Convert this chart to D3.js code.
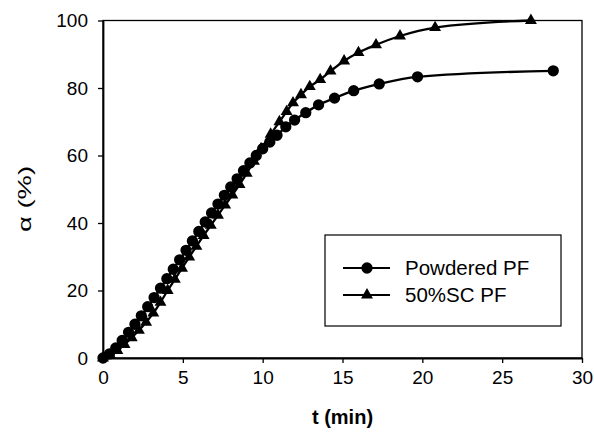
<!DOCTYPE html>
<html lang="en">
<head>
    <meta charset="UTF-8">
    <title>Conversion vs time</title>
    <script src="https://d3js.org/d3.v7.min.js"></script>
    <style>
        body {margin: 0; background: #fff;}
        text {font-family: "Liberation Sans", Arial, sans-serif; fill: #000;}
        path.line {fill: none; stroke: #000; stroke-width: 2.3px;}
    </style>
</head>
<body>
<script>
    const width  = 594;
    const height = 446;
    const margin = {top: 20.5, right: 12, bottom: 88, left: 103};

    // Powdered PF (circles)
    const powderedT = [0, 0.4, 0.8, 1.2, 1.6, 2.0, 2.4, 2.8, 3.2, 3.6, 4.0, 4.4, 4.8, 5.2, 5.6, 6.0, 6.4, 6.8,
        7.2, 7.6, 8.0, 8.4, 8.8, 9.2, 9.6, 10.0, 10.45, 10.9, 11.45, 12.0, 12.7, 13.5, 14.5, 15.7, 17.3, 19.7, 28.2];
    const powderedA = [0, 1.2, 3, 5.2, 7.6, 10, 12.5, 15.2, 17.9, 20.7, 23.5, 26.3, 29.1, 31.9, 34.7, 37.5, 40.3, 43,
        45.6, 48.2, 50.7, 53.1, 55.5, 57.8, 60, 62, 64, 66, 68.5, 70.5, 72.7, 75, 77, 79.2, 81.2, 83.3, 85.1];

    // 50%SC PF (triangles)
    const scT = [0, 0.45, 0.9, 1.35, 1.8, 2.25, 2.7, 3.15, 3.6, 4.05, 4.5, 4.95, 5.4, 5.85, 6.3, 6.75, 7.2, 7.65,
        8.1, 8.55, 9.0, 9.45, 9.9, 10.5, 11.05, 11.5, 11.9, 12.4, 12.95, 13.6, 14.25, 15.1, 16.0, 17.1, 18.6, 20.8, 26.8];
    const scA = [0, 0.8, 2.2, 4, 6, 8.2, 10.6, 13.3, 16.5, 20, 23.3, 26.6, 29.9, 33.1, 36.3, 39.3, 42.3, 45.3,
        48.3, 51.4, 54.7, 58.3, 62, 66.3, 70, 73, 75.6, 78, 80.4, 82.5, 85, 88, 90.5, 92.8, 95.4, 97.9, 100];

    const xTicks = [0, 5, 10, 15, 20, 25, 30];
    const yTicks = [0, 20, 40, 60, 80, 100];
    const seriesNames = ["Powdered PF", "50%SC PF"];

    const series = [
        {name: seriesNames[0], shape: d3.symbolCircle, size: 100,
         points: powderedT.map((t, i) => [t, powderedA[i]])},
        {name: seriesNames[1], shape: d3.symbolTriangle, size: 62,
         points: scT.map((t, i) => [t, scA[i]])}
    ];

    const scaleX = d3.scaleLinear().domain([0, 30]).range([margin.left, width - margin.right]);
    const scaleY = d3.scaleLinear().domain([0, 100]).range([height - margin.bottom, margin.top]);

    const svg = d3.select("body").append("svg").attr("width", width).attr("height", height);

    // plot frame
    svg.append("rect")
        .attr("x", scaleX(0)).attr("y", scaleY(100))
        .attr("width", scaleX(30) - scaleX(0)).attr("height", scaleY(0) - scaleY(100))
        .attr("fill", "none").attr("stroke", "#000").attr("stroke-width", 1.3);

    const xAxis = d3.axisBottom(scaleX).tickValues(xTicks).tickSize(5).tickSizeOuter(0).tickPadding(8);
    const yAxis = d3.axisLeft(scaleY).tickValues(yTicks).tickSize(5).tickSizeOuter(0).tickPadding(10);

    const gx = svg.append("g").attr("transform", "translate(" + [0, scaleY(0)] + ")").call(xAxis);
    const gy = svg.append("g").attr("transform", "translate(" + [scaleX(0), 0] + ")").call(yAxis);
    [gx, gy].forEach(g => {
        g.selectAll(".domain").attr("stroke", "#000").attr("stroke-width", 1.8);
        g.selectAll(".tick line").attr("stroke", "#000").attr("stroke-width", 1.3);
        g.selectAll(".tick text").style("font-size", "19px").style("font-family", "Liberation Sans, Arial, sans-serif");
    });

    const line = d3.line()
        .x(d => scaleX(d[0]))
        .y(d => scaleY(d[1]))
        .curve(d3.curveMonotoneX);

    series.forEach(s => {
        svg.append("path").attr("class", "line").attr("d", line(s.points));
        svg.append("g").selectAll("path")
            .data(s.points)
            .join("path")
            .attr("transform", d => "translate(" + [scaleX(d[0]), scaleY(d[1])] + ")")
            .attr("d", d3.symbol().type(s.shape).size(s.size))
            .attr("fill", "#000");
    });

    // axis titles
    svg.append("text")
        .attr("x", (scaleX(0) + scaleX(30)) / 2).attr("y", 424)
        .attr("text-anchor", "middle")
        .style("font-size", "20px").style("font-weight", "bold")
        .text("t (min)");

    svg.append("text")
        .attr("transform", "translate(31," + 199 + ") rotate(-90)")
        .attr("text-anchor", "middle")
        .attr("textLength", 66)
        .attr("lengthAdjust", "spacingAndGlyphs")
        .style("font-size", "18px")
        .text("α (%)");

    // legend
    const legend = svg.append("g");
    legend.append("rect")
        .attr("x", 325).attr("y", 235).attr("width", 236).attr("height", 91)
        .attr("fill", "#fff").attr("stroke", "#000").attr("stroke-width", 1.2);

    series.forEach((s, i) => {
        const y = 268 + i * 27;
        legend.append("line")
            .attr("x1", 343).attr("x2", 390).attr("y1", y).attr("y2", y)
            .attr("stroke", "#000").attr("stroke-width", 2);
        legend.append("path")
            .attr("transform", "translate(" + [367, y] + ")")
            .attr("d", d3.symbol().type(s.shape).size(s.size))
            .attr("fill", "#000");
        legend.append("text")
            .attr("x", 405).attr("y", y + 7)
            .style("font-size", "20.5px")
            .text(s.name);
    });
</script>
</body>
</html>
